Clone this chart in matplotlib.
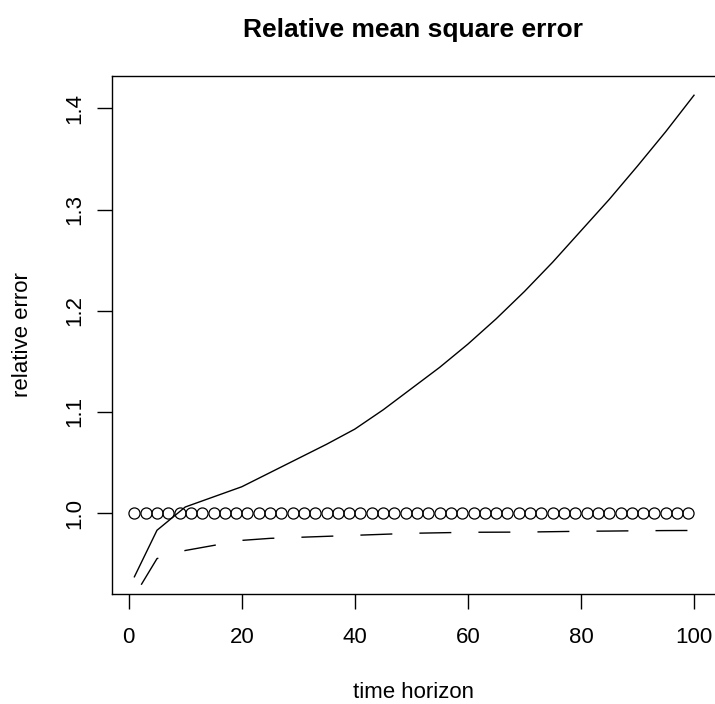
import numpy as np
import matplotlib.pyplot as plt

plt.rcParams['font.family'] = ['Liberation Sans', 'DejaVu Sans']

# data
horizon = [1, 5, 10, 20, 25, 30, 35, 40, 45, 50, 55, 60, 65, 70, 75, 80, 85, 90, 95, 100]
solid_err = [0.937, 0.983, 1.006, 1.026, 1.040, 1.054, 1.068, 1.083, 1.102, 1.123, 1.144,
             1.167, 1.192, 1.219, 1.248, 1.279, 1.310, 1.343, 1.377, 1.413]
dashed_err = [0.918, 0.955, 0.963, 0.973, 0.975, 0.976, 0.977, 0.978, 0.979, 0.980, 0.9805,
              0.981, 0.9811, 0.9812, 0.9816, 0.982, 0.9822, 0.9825, 0.9827, 0.9828]
circle_x = list(range(1, 100, 2))
circle_y = [1.0] * len(circle_x)

fig = plt.figure(figsize=(7.15, 7.04), dpi=100)
W, H = 715.0, 704.0
ax = fig.add_axes([112 / W, (H - 594) / H, (716.4 - 112) / W, (594 - 76) / H])

ax.plot(horizon, solid_err, color='black', lw=1.0)
ax.plot(horizon, dashed_err, color='black', lw=1.0, linestyle=(33, (23, 19.5)),
        dash_capstyle='butt')
ax.plot(circle_x, circle_y, linestyle='none', marker='o', ms=8.0,
        mfc='none', mec='black', mew=0.9)

ax.set_xlim(-2.96, 103.96)
ax.set_ylim(0.920, 1.432)
ax.set_xticks([0, 20, 40, 60, 80, 100])
ax.set_yticks([1.0, 1.1, 1.2, 1.3, 1.4])
ax.set_yticklabels(['1.0', '1.1', '1.2', '1.3', '1.4'], rotation=90, va='center')

ax.tick_params(axis='both', length=10.6, width=1.0, labelsize=16, color='black')
ax.tick_params(axis='x', pad=13.5)
ax.tick_params(axis='y', pad=9)
for s in ax.spines.values():
    s.set_linewidth(1.0)

fig.text(413 / W, 1 - 30 / H, 'Relative mean square error', ha='center', va='center',
         fontsize=19, fontweight='bold')
fig.text(413 / W, 1 - 698 / H, 'time horizon', ha='center', va='baseline', fontsize=16)
fig.text(23 / W, 1 - 335 / H, 'relative error', ha='center', va='center',
         rotation=90, fontsize=16)

fig.savefig('out.png', dpi=100)
